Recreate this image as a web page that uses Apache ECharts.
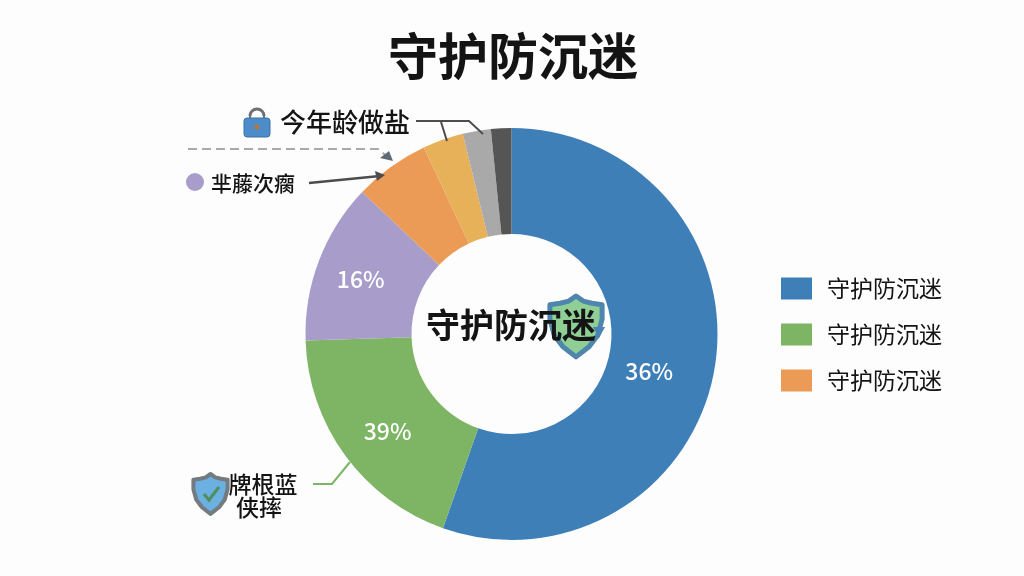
<!DOCTYPE html>
<html><head><meta charset="utf-8">
<style>html,body{margin:0;padding:0;background:#fdfdfd}#c{width:1024px;height:576px}</style>
<script src="https://cdn.jsdelivr.net/npm/echarts@6/dist/echarts.min.js"></script>
</head><body><div id="c"></div>
<script>
const titleText = '守护防沉迷';
const sliceKeys = ['s1','s2','s3','s4','s5','s6','s7'];
const sliceValues = [55.4, 19.1, 12.6, 5.9, 3.2, 2.2, 1.6];
const sliceLabels = ['36%','39%','16%','','','',''];
const sliceColors = ['#3f7fb8','#7db564','#a89cca','#ec9b57','#e6b158','#a9a9a9','#555555'];
const legendKeys = ['s1','s2','s4'];
const legendText = '守护防沉迷';
const font = '"Noto Sans CJK SC","Noto Sans",sans-serif';
const ink = '#141414', leader = '#4d4d4d';
const labelShift = [[-16,11],[2,5],[-5,1]];

const chart = echarts.init(document.getElementById('c'));
const txt = (x,y,text,size,weight,extra) => ({type:'text',x,y,z:20,style:Object.assign({text,fill:ink,font:`${weight||'normal'} ${size}px ${font}`,align:'center',verticalAlign:'middle'},extra||{})});
const line = (points,stroke,width,dash) => ({type:'polyline',z:15,shape:{points},style:{stroke,lineWidth:width,fill:null,lineDash:dash||null}});
const shieldOutline = [[0,-20],[5,-16.5],[11,-15],[18,-14],[18,-4],[15,7],[9,15],[0,22],[-9,15],[-15,7],[-18,-4],[-18,-14],[-11,-15],[-5,-16.5]];
const shield = (cx,cy,s,fill,stroke,lw) => ({type:'polygon',z:12,
  shape:{points:shieldOutline.map(p=>[cx+p[0]*s,cy+p[1]*s])},
  style:{fill,stroke,lineWidth:lw,lineJoin:'round'}});

chart.setOption({
  animation:false,
  backgroundColor:'#fdfdfd',
  title:{text:titleText,left:508,top:26,textAlign:'center',textStyle:{fontFamily:font,fontSize:50,fontWeight:'bold',color:ink}},
  legend:{
    orient:'vertical',left:776,top:272,itemWidth:31,itemHeight:22,itemGap:23,
    data:legendKeys,icon:'rect',selectedMode:false,
    formatter:()=>legendText,
    textStyle:{fontFamily:font,fontSize:23,color:ink,padding:[0,0,0,10]}
  },
  series:[{
    type:'pie',center:[511.5,334],radius:[100,206],startAngle:90,clockwise:true,
    avoidLabelOverlap:false,silent:true,
    data:sliceKeys.map((name,i)=>({name,value:sliceValues[i],itemStyle:{color:sliceColors[i]},
      label:{show:!!sliceLabels[i],formatter:sliceLabels[i]}})),
    label:{position:'inside',fontFamily:font,fontSize:23,fontWeight:500,color:'#fff'},
    labelLine:{show:false},
    labelLayout:p=>{const s=labelShift[p.dataIndex];return s?{dx:s[0],dy:s[1]}:{};}
  }],
  graphic:[
    shield(576,325,1.45,'#8fcf96','#4f86ad',5),
    {type:'polygon',z:13,shape:{points:[[593,327],[605,327],[599,338]]},style:{fill:'#4a82b5'}},
    txt(511,325,titleText,34,'bold'),

    txt(345,122,'今年龄做盐',26,500),
    {type:'rect',z:12,shape:{x:244,y:118,width:26,height:19,r:3},style:{fill:'#4d8cc8',stroke:'#3b72a6',lineWidth:1}},
    {type:'arc',z:11,shape:{cx:257,cy:116,r:7,startAngle:Math.PI,endAngle:0},style:{fill:null,stroke:'#6d7176',lineWidth:3}},
    {type:'rect',z:11,shape:{x:249,y:115,width:2,height:4},style:{fill:'#6d7176'}},
    {type:'rect',z:11,shape:{x:263,y:115,width:2,height:4},style:{fill:'#6d7176'}},
    {type:'circle',z:13,shape:{cx:257,cy:127,r:2.5},style:{fill:'#b5793f'}},
    line([[416,121],[469,121],[483,134]],leader,2),
    line([[441,122],[447,141]],leader,2),

    line([[188,149],[378,149],[390,159]],'#a9a9a9',2,[9,5]),
    {type:'polygon',z:16,shape:{points:[[380,158],[393,161],[389,151]]},style:{fill:'#5d6a75'}},

    {type:'circle',z:12,shape:{cx:195,cy:182,r:9},style:{fill:'#a89cca'}},
    txt(253,183,'芈藤次瘸',21,500),
    line([[309,183],[380,176]],leader,2.5),
    {type:'polygon',z:16,shape:{points:[[385,175],[375,171],[377,181]]},style:{fill:leader}},

    shield(210.5,493,0.95,'#6bb0e0','#737b80',4),
    line([[204,494],[209,500],[219,487]],'#4e8f5b',3),
    txt(263,484,'牌根蓝',23,500),
    txt(259,507,'侠摔',23,500),
    line([[313,484],[332,484],[350,462]],'#7db564',2)
  ]
});
</script></body></html>
